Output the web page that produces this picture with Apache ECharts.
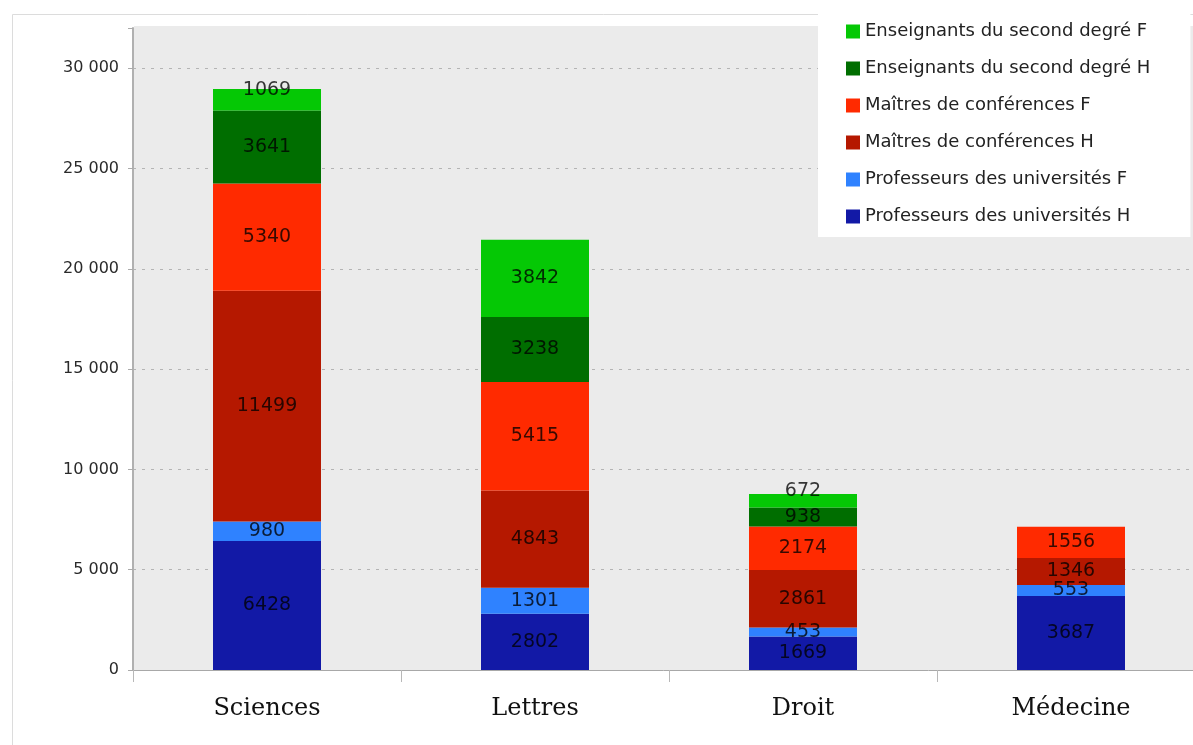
<!DOCTYPE html>
<html><head><meta charset="utf-8">
<script src="https://cdn.jsdelivr.net/npm/echarts@6/dist/echarts.min.js"></script>
<style>html,body{margin:0;padding:0;background:#fff;}#c{width:1193px;height:745px;}</style>
</head><body><div id="c"></div>
<script>
var categories = ['Sciences', 'Lettres', 'Droit', 'Médecine'];
var profH = [6428, 2802, 1669, 3687];
var profF = [980, 1301, 453, 553];
var mcfH = [11499, 4843, 2861, 1346];
var mcfF = [5340, 5415, 2174, 1556];
var ensH = [3641, 3238, 938, 0];
var ensF = [1069, 3842, 672, 0];
var seriesNames = [
  'Professeurs des universités H',
  'Professeurs des universités F',
  'Maîtres de conférences H',
  'Maîtres de conférences F',
  'Enseignants du second degré H',
  'Enseignants du second degré F'
];
var yTicks = [0, 5000, 10000, 15000, 20000, 25000, 30000];

var colors = ['#1219a6', '#2f82ff', '#b51800', '#ff2a00', '#006e00', '#05c805'];
var values = [profH, profF, mcfH, mcfF, ensH, ensF];

var chart = echarts.init(document.getElementById('c'));
var series = values.map(function (v, i) {
  return {
    name: seriesNames[i],
    type: 'bar',
    stack: 'total',
    barWidth: 108,
    data: v.map(function (x) { return x === 0 ? null : x; }),
    itemStyle: { color: colors[i] },
    label: {
      show: true,
      position: 'inside',
      color: 'rgba(0,0,0,0.78)',
      fontFamily: 'DejaVu Sans',
      fontSize: 19
    },
    labelLayout: i === 5 ? function (p) {
      return p.rect.height < 24 ? { dy: -10 } : {};
    } : undefined
  };
});

chart.setOption({
  animation: false,
  backgroundColor: '#fff',
  graphic: [{
    type: 'rect', left: 10, top: 12, shape: { width: 1190, height: 740 },
    style: { fill: 'none', stroke: '#dcdcdc', lineWidth: 1 }, z: -1
  }, {
    type: 'rect', left: 134, top: 26, shape: { width: 1070, height: 4 },
    style: { fill: '#ebebeb' }, z: 1
  }],
  grid: {
    left: 133, top: 28, width: 1072, bottom: 75,
    outerBoundsMode: 'none',
    containLabel: false,
    show: true, backgroundColor: '#ebebeb', borderWidth: 0
  },
  legend: {
    orient: 'vertical',
    left: 818, top: 13,
    data: seriesNames.slice().reverse(),
    backgroundColor: '#fff',
    padding: [9, 40, 11, 28],
    itemWidth: 14, itemHeight: 14,
    itemGap: 18,
    icon: 'rect',
    z: 5,
    textStyle: { fontFamily: 'DejaVu Sans', fontSize: 18, color: '#222', lineHeight: 19 }
  },
  xAxis: {
    type: 'category',
    data: categories,
    axisLine: { lineStyle: { color: '#a8a8a8' } },
    axisTick: { show: true, length: 12, lineStyle: { color: '#b8b8b8' } },
    axisLabel: { fontFamily: 'DejaVu Serif', fontSize: 24, color: '#111', margin: 27 }
  },
  yAxis: {
    type: 'value',
    min: 0, max: 32000, interval: 5000,
    axisLine: { show: true, lineStyle: { color: '#b0b0b0', width: 2 } },
    axisTick: { show: true, length: 5, lineStyle: { color: '#aaa' } },
    axisLabel: {
      fontFamily: 'DejaVu Sans', fontSize: 16, color: '#2a2a2a', margin: 14,
      formatter: function (v) {
        if (yTicks.indexOf(v) < 0) return '';
        return v === 0 ? '0' : String(v).replace(/\B(?=(\d{3})+(?!\d))/g, ' ');
      }
    },
    splitLine: { show: true, lineStyle: { color: '#b4b4b4', type: [3, 6] } }
  },
  series: series
});
</script></body></html>
